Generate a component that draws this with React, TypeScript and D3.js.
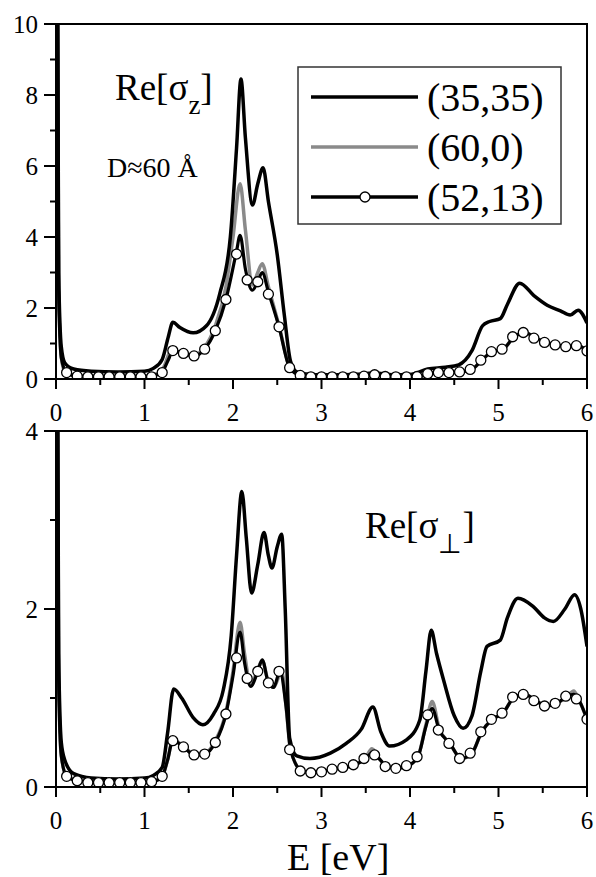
import React, { useEffect, useRef } from 'react';
import * as d3 from 'd3';

// energy axis ticks
const xTicks = [0, 1, 2, 3, 4, 5, 6];
const xMinor = [0.5, 1.5, 2.5, 3.5, 4.5, 5.5];
const topTicks = [0, 2, 4, 6, 8, 10];
const topMinor = [1, 3, 5, 7, 9];
const botTicks = [0, 2, 4];
const botMinor = [1, 3];

const seriesNames = ['(35,35)', '(60,0)', '(52,13)'];

// Re[sigma_z], [E, value]
const topArm: [number, number][] = [
  [0.005, 20], [0.03, 3.0], [0.06, 0.9], [0.1, 0.45], [0.2, 0.28], [0.4, 0.22], [0.7, 0.2], [1.0, 0.22],
  [1.1, 0.3], [1.2, 0.55], [1.27, 1.2], [1.32, 1.6], [1.4, 1.45], [1.55, 1.3], [1.7, 1.5], [1.85, 2.4],
  [1.97, 4.0], [2.04, 6.5], [2.09, 8.45], [2.14, 6.8], [2.22, 4.9], [2.28, 5.5], [2.34, 5.95], [2.4, 5.0],
  [2.5, 3.5], [2.58, 1.8], [2.65, 0.5], [2.72, 0.2], [2.9, 0.12], [3.2, 0.12], [3.5, 0.15], [3.6, 0.17],
  [3.8, 0.12], [4.0, 0.13], [4.2, 0.28], [4.4, 0.33], [4.55, 0.4], [4.7, 0.8], [4.82, 1.5], [4.9, 1.62],
  [5.02, 1.7], [5.1, 2.1], [5.24, 2.7], [5.4, 2.35], [5.55, 2.08], [5.7, 1.92], [5.81, 1.8], [5.9, 1.94],
  [6.0, 1.58],
];
const topZig: [number, number][] = [
  [0.005, 20], [0.03, 2.5], [0.06, 0.6], [0.1, 0.22], [0.2, 0.1], [0.5, 0.07], [1.0, 0.08], [1.15, 0.15],
  [1.22, 0.35], [1.3, 0.8], [1.4, 0.75], [1.56, 0.68], [1.68, 0.9], [1.8, 1.5], [1.92, 2.6], [2.0, 4.0],
  [2.08, 5.5], [2.14, 4.2], [2.22, 2.65], [2.28, 3.0], [2.33, 3.25], [2.4, 2.6], [2.52, 1.5], [2.64, 0.35],
  [2.76, 0.1], [2.9, 0.06], [3.5, 0.08], [3.62, 0.13], [3.74, 0.07], [4.1, 0.07], [4.21, 0.15], [4.33, 0.18],
  [4.45, 0.18], [4.58, 0.2], [4.7, 0.27], [4.81, 0.53], [4.93, 0.77], [5.05, 0.84], [5.18, 1.19], [5.3, 1.31],
  [5.42, 1.15], [5.54, 1.03], [5.66, 0.96], [5.78, 0.91], [5.9, 0.94], [6.0, 0.79],
];
const topChiral: [number, number][] = [
  [0.005, 20], [0.03, 2.5], [0.06, 0.6], [0.12, 0.18], [0.24, 0.08], [0.4, 0.06], [1.0, 0.06], [1.12, 0.1],
  [1.2, 0.2], [1.28, 0.6], [1.32, 0.8], [1.44, 0.72], [1.56, 0.65], [1.68, 0.84], [1.8, 1.36], [1.92, 2.24],
  [2.04, 3.6], [2.08, 4.05], [2.14, 3.1], [2.22, 2.5], [2.28, 2.75], [2.33, 3.0], [2.4, 2.45], [2.52, 1.47],
  [2.64, 0.32], [2.76, 0.1], [2.9, 0.06], [3.5, 0.08], [3.62, 0.13], [3.74, 0.07], [4.1, 0.07], [4.21, 0.15],
  [4.33, 0.18], [4.45, 0.18], [4.58, 0.2], [4.7, 0.27], [4.81, 0.53], [4.93, 0.77], [5.05, 0.84], [5.18, 1.19],
  [5.3, 1.31], [5.42, 1.15], [5.54, 1.03], [5.66, 0.96], [5.78, 0.91], [5.9, 0.94], [6.0, 0.79],
];
// circle markers of (52,13), every 0.12 eV
const topMarks = [
  0.18, 0.08, 0.06, 0.06, 0.06, 0.06, 0.06, 0.06, 0.06, 0.18,
  0.8, 0.72, 0.65, 0.84, 1.36, 2.24, 3.52, 2.79, 2.74, 2.39,
  1.47, 0.32, 0.1, 0.06, 0.06, 0.06, 0.06, 0.06, 0.08, 0.12,
  0.07, 0.06, 0.06, 0.07, 0.15, 0.18, 0.18, 0.2, 0.27, 0.53,
  0.77, 0.84, 1.19, 1.31, 1.15, 1.03, 0.96, 0.91, 0.94, 0.79,
];

// Re[sigma_perp]
const botArm: [number, number][] = [
  [0.005, 8], [0.03, 1.5], [0.06, 0.5], [0.1, 0.3], [0.2, 0.15], [0.4, 0.1], [0.7, 0.09], [1.0, 0.1],
  [1.1, 0.13], [1.2, 0.22], [1.26, 0.6], [1.33, 1.1], [1.42, 1.0], [1.55, 0.78], [1.66, 0.7], [1.78, 0.82],
  [1.89, 1.09], [1.98, 1.7], [2.04, 2.6], [2.1, 3.32], [2.15, 2.8], [2.21, 2.18], [2.28, 2.5], [2.35, 2.86],
  [2.4, 2.6], [2.44, 2.46], [2.5, 2.7], [2.55, 2.84], [2.59, 2.0], [2.64, 0.55], [2.72, 0.35], [2.87, 0.32],
  [3.1, 0.38], [3.28, 0.49], [3.45, 0.65], [3.58, 0.9], [3.67, 0.62], [3.77, 0.46], [3.96, 0.53], [4.11, 0.75],
  [4.18, 1.3], [4.24, 1.76], [4.3, 1.5], [4.38, 1.2], [4.5, 0.8], [4.6, 0.66], [4.7, 0.8], [4.8, 1.3],
  [4.87, 1.58], [5.02, 1.65], [5.1, 1.9], [5.22, 2.12], [5.39, 2.03], [5.52, 1.9], [5.62, 1.86], [5.75, 2.0],
  [5.86, 2.16], [5.93, 2.0], [6.0, 1.58],
];
const botZig: [number, number][] = [
  [0.005, 8], [0.03, 1.2], [0.06, 0.35], [0.12, 0.12], [0.25, 0.07], [0.5, 0.05], [1.0, 0.05], [1.1, 0.06],
  [1.2, 0.12], [1.26, 0.3], [1.32, 0.53], [1.44, 0.46], [1.56, 0.37], [1.68, 0.38], [1.8, 0.52], [1.92, 0.84],
  [2.0, 1.3], [2.08, 1.85], [2.13, 1.5], [2.2, 1.15], [2.28, 1.32], [2.33, 1.42], [2.4, 1.18], [2.46, 1.12],
  [2.55, 1.3], [2.6, 0.9], [2.65, 0.42], [2.78, 0.18], [2.9, 0.16], [3.13, 0.2], [3.38, 0.25], [3.5, 0.33],
  [3.57, 0.43], [3.65, 0.32], [3.74, 0.23], [3.86, 0.21], [3.98, 0.24], [4.09, 0.34], [4.18, 0.7], [4.25, 0.96],
  [4.33, 0.66], [4.45, 0.49], [4.58, 0.32], [4.7, 0.38], [4.81, 0.62], [4.93, 0.76], [5.05, 0.83], [5.18, 1.01],
  [5.3, 1.04], [5.42, 0.97], [5.54, 0.91], [5.66, 0.94], [5.78, 1.02], [5.85, 1.08], [5.9, 1.0], [6.0, 0.76],
];
const botChiral: [number, number][] = [
  [0.005, 8], [0.03, 1.2], [0.06, 0.35], [0.12, 0.12], [0.25, 0.07], [0.5, 0.05], [1.0, 0.05], [1.1, 0.06],
  [1.2, 0.12], [1.26, 0.3], [1.32, 0.52], [1.44, 0.45], [1.56, 0.36], [1.68, 0.37], [1.8, 0.5], [1.92, 0.82],
  [2.0, 1.25], [2.08, 1.74], [2.13, 1.4], [2.2, 1.13], [2.28, 1.3], [2.33, 1.43], [2.4, 1.17], [2.46, 1.12],
  [2.53, 1.3], [2.6, 0.9], [2.65, 0.42], [2.78, 0.18], [2.9, 0.16], [3.13, 0.2], [3.38, 0.25], [3.5, 0.32],
  [3.57, 0.38], [3.65, 0.32], [3.74, 0.23], [3.86, 0.21], [3.98, 0.24], [4.09, 0.34], [4.18, 0.68], [4.25, 0.88],
  [4.33, 0.64], [4.45, 0.49], [4.58, 0.32], [4.7, 0.38], [4.81, 0.62], [4.93, 0.76], [5.05, 0.83], [5.18, 1.01],
  [5.3, 1.04], [5.42, 0.97], [5.54, 0.91], [5.66, 0.94], [5.78, 1.02], [5.85, 1.04], [5.9, 0.99], [6.0, 0.76],
];
const botMarks = [
  0.12, 0.07, 0.05, 0.05, 0.05, 0.05, 0.05, 0.05, 0.06, 0.12,
  0.52, 0.45, 0.36, 0.37, 0.5, 0.82, 1.45, 1.22, 1.3, 1.17,
  1.3, 0.42, 0.18, 0.16, 0.17, 0.2, 0.22, 0.25, 0.32, 0.36,
  0.23, 0.21, 0.24, 0.34, 0.81, 0.64, 0.49, 0.32, 0.38, 0.62,
  0.76, 0.83, 1.01, 1.04, 0.97, 0.91, 0.94, 1.02, 0.99, 0.76,
];

const FONT = '"Liberation Serif", "Times New Roman", serif';

const App = () => {
  const svgRef = useRef<SVGSVGElement>(null);

  useEffect(() => {
    const svg = d3.select(svgRef.current);
    svg.selectAll('*').remove();

    const x = d3.scaleLinear().domain([0, 6]).range([56, 587]);
    const yTop = d3.scaleLinear().domain([0, 10]).range([379, 24]);
    const yBot = d3.scaleLinear().domain([0, 4]).range([787, 431]);
    const markE = d3.range(1, 51).map(k => k * 0.12);

    const drawPanel = (id, y, ticks, minor, arm, zig, chiral, marks) => {
      const [y0, y1] = y.range();
      svg.append('clipPath').attr('id', id)
        .append('rect').attr('x', 56).attr('y', y1).attr('width', 531).attr('height', y0 - y1);

      const g = svg.append('g');
      // x ticks
      g.selectAll('.xt').data(xTicks).enter().append('line')
        .attr('x1', d => x(d)).attr('x2', d => x(d)).attr('y1', y0).attr('y2', y0 + 10)
        .attr('stroke', '#000').attr('stroke-width', 2);
      g.selectAll('.xm').data(xMinor).enter().append('line')
        .attr('x1', d => x(d)).attr('x2', d => x(d)).attr('y1', y0).attr('y2', y0 + 6)
        .attr('stroke', '#000').attr('stroke-width', 2);
      g.selectAll('.xl').data(xTicks).enter().append('text')
        .attr('x', d => x(d)).attr('y', y0 + 33).attr('dy', '0.35em')
        .attr('text-anchor', 'middle').attr('font-family', FONT).attr('font-size', 25)
        .text(d => d);
      // y ticks
      g.selectAll('.yt').data(ticks).enter().append('line')
        .attr('x1', 44).attr('x2', 56).attr('y1', d => y(d)).attr('y2', d => y(d))
        .attr('stroke', '#000').attr('stroke-width', 2);
      g.selectAll('.ym').data(minor).enter().append('line')
        .attr('x1', 50).attr('x2', 56).attr('y1', d => y(d)).attr('y2', d => y(d))
        .attr('stroke', '#000').attr('stroke-width', 2);
      g.selectAll('.yl').data(ticks).enter().append('text')
        .attr('x', 38).attr('y', d => y(d)).attr('dy', '0.35em')
        .attr('text-anchor', 'end').attr('font-family', FONT).attr('font-size', 25)
        .text(d => d);

      const line = d3.line<[number, number]>()
        .x(d => x(d[0])).y(d => y(d[1])).curve(d3.curveMonotoneX);
      const plot = svg.append('g').attr('clip-path', `url(#${id})`);
      plot.append('path').attr('d', line(zig)).attr('fill', 'none')
        .attr('stroke', '#8a8a8a').attr('stroke-width', 3.5);
      plot.append('path').attr('d', line(chiral)).attr('fill', 'none')
        .attr('stroke', '#000').attr('stroke-width', 3.2);
      plot.append('path').attr('d', line(arm)).attr('fill', 'none')
        .attr('stroke', '#000').attr('stroke-width', 3.5);
      plot.selectAll('circle').data(marks).enter().append('circle')
        .attr('cx', (d, i) => x(markE[i])).attr('cy', d => y(d)).attr('r', 5)
        .attr('fill', '#fff').attr('stroke', '#000').attr('stroke-width', 1.3);

      // frame
      svg.append('rect').attr('x', 56).attr('y', y1).attr('width', 531).attr('height', y0 - y1)
        .attr('fill', 'none').attr('stroke', '#000').attr('stroke-width', 2);
    };

    drawPanel('clipTop', yTop, topTicks, topMinor, topArm, topZig, topChiral, topMarks);
    drawPanel('clipBot', yBot, botTicks, botMinor, botArm, botZig, botChiral, botMarks);

    // legend
    const lg = svg.append('g');
    lg.append('rect').attr('x', 298).attr('y', 67).attr('width', 263).attr('height', 157)
      .attr('fill', '#fff').attr('stroke', '#333').attr('stroke-width', 1.5);
    const rows = [97, 147, 197];
    const colors = ['#000', '#8a8a8a', '#000'];
    seriesNames.forEach((name, i) => {
      lg.append('line').attr('x1', 311).attr('x2', 418).attr('y1', rows[i]).attr('y2', rows[i])
        .attr('stroke', colors[i]).attr('stroke-width', 3.5);
      if (i === 2) {
        lg.append('circle').attr('cx', 365).attr('cy', rows[i]).attr('r', 5)
          .attr('fill', '#fff').attr('stroke', '#000').attr('stroke-width', 1.3);
      }
      lg.append('text').attr('x', 427).attr('y', rows[i] + 14)
        .attr('font-family', FONT).attr('font-size', 40).text(name);
    });

    // panel labels
    const t1 = svg.append('text').attr('x', 115).attr('y', 100)
      .attr('font-family', FONT).attr('font-size', 37);
    t1.append('tspan').text('Re[σ');
    t1.append('tspan').attr('dy', 14).attr('font-size', 27).text('z');
    t1.append('tspan').attr('dy', -14).text(']');

    svg.append('text').attr('x', 107).attr('y', 177)
      .attr('font-family', FONT).attr('font-size', 28).text('D≈60 Å');

    const t2 = svg.append('text').attr('x', 365).attr('y', 538)
      .attr('font-family', FONT).attr('font-size', 37);
    t2.append('tspan').text('Re[σ');
    t2.append('tspan').attr('dy', 15).attr('font-size', 27).text('⊥');
    t2.append('tspan').attr('dy', -15).text(']');

    svg.append('text').attr('x', 287).attr('y', 870)
      .attr('font-family', FONT).attr('font-size', 38).text('E [eV]');
  }, []);

  return (
    <svg ref={svgRef} width={596} height={877}
      style={{ position: 'absolute', left: 0, top: 0, background: '#fff' }} />
  );
};

export default App;
